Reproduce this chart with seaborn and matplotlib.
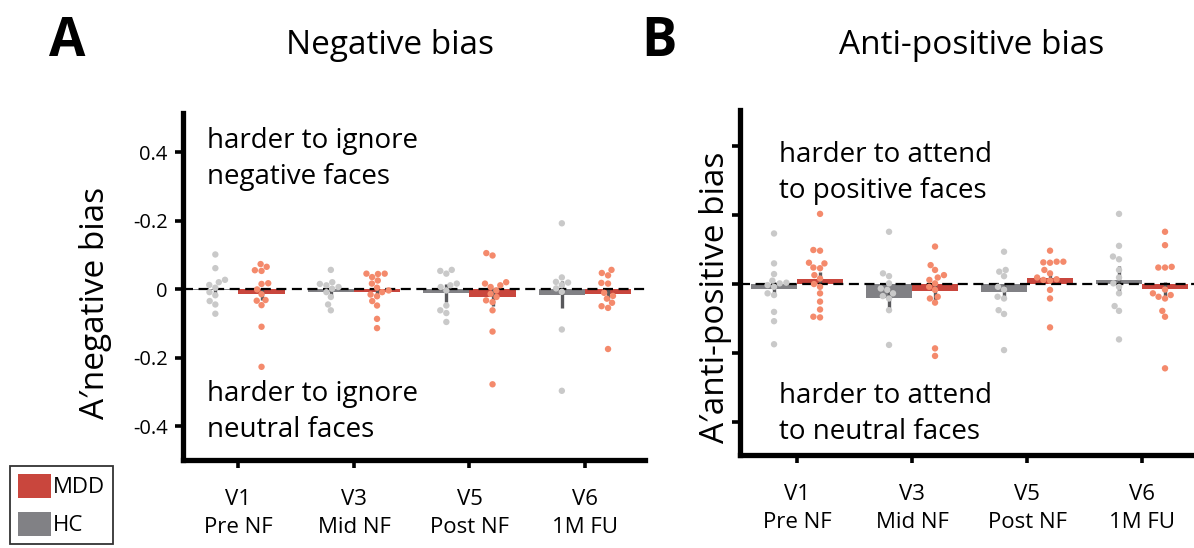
import matplotlib
matplotlib.use("Agg")
import matplotlib.pyplot as plt
from matplotlib.patches import Patch
import numpy as np
import pandas as pd
import seaborn as sns
import warnings
warnings.filterwarnings("ignore")

# ---------------- data ----------------
visits = ["V1", "V3", "V5", "V6"]
visit_labels = ["V1\nPre NF", "V3\nMid NF", "V5\nPost NF", "V6\n1M FU"]
groups = ["HC", "MDD"]

# Panel A: negative bias
neg_hc_mean = [-0.004, -0.010, -0.012, -0.016]
neg_mdd_mean = [-0.015, -0.009, -0.023, -0.015]
neg_hc_err = [0.012, 0.010, 0.026, 0.040]
neg_mdd_err = [0.018, 0.012, 0.027, 0.018]
neg_hc_dots = [
    [0.101, 0.061, 0.027, 0.020, 0.012, 0.004, -0.009, -0.018, -0.035, -0.045, -0.072],
    [0.056, 0.020, 0.015, 0.011, 0.006, 0.001, -0.009, -0.023, -0.045, -0.062],
    [0.056, 0.053, 0.045, 0.016, 0.011, 0.006, -0.004, -0.048, -0.062, -0.070, -0.096],
    [0.192, 0.034, 0.021, 0.019, 0.012, 0.002, -0.008, -0.118, -0.297],
]
neg_mdd_dots = [
    [0.073, 0.065, 0.055, 0.053, 0.017, 0.015, -0.001, -0.015, -0.032, -0.034, -0.047, -0.110, -0.227],
    [0.045, 0.045, 0.044, 0.035, 0.025, 0.016, 0.004, -0.004, -0.009, -0.016, -0.021, -0.035, -0.048, -0.087, -0.114],
    [0.105, 0.098, 0.020, 0.016, 0.011, 0.006, -0.004, -0.014, -0.023, -0.033, -0.038, -0.062, -0.124, -0.278],
    [0.056, 0.047, 0.040, 0.018, 0.016, -0.011, -0.020, -0.028, -0.040, -0.050, -0.055, -0.175],
]

# Panel B: anti-positive bias
pos_hc_mean = [-0.015, -0.042, -0.022, 0.012]
pos_mdd_mean = [0.014, -0.020, 0.017, -0.015]
pos_hc_err = [0.020, 0.027, 0.020, 0.040]
pos_mdd_err = [0.022, 0.025, 0.015, 0.020]
pos_hc_dots = [
    [0.147, 0.060, 0.029, 0.010, 0.004, 0.002, -0.003, -0.008, -0.027, -0.032, -0.081, -0.108, -0.175],
    [0.152, 0.031, 0.023, 0.002, -0.013, -0.017, -0.027, -0.035, -0.042, -0.076, -0.177],
    [0.094, 0.041, 0.036, 0.023, -0.008, -0.016, -0.037, -0.042, -0.076, -0.087, -0.192],
    [0.204, 0.111, 0.080, 0.072, 0.041, 0.019, 0.002, -0.008, -0.027, -0.064, -0.078, -0.161],
]
pos_mdd_dots = [
    [0.204, 0.099, 0.097, 0.062, 0.060, 0.048, 0.046, 0.026, 0.016, 0.000, -0.008, -0.027, -0.051, -0.074, -0.095, -0.097],
    [0.109, 0.055, 0.041, 0.026, 0.019, 0.012, 0.002, -0.008, -0.017, -0.037, -0.042, -0.054, -0.187, -0.209],
    [0.097, 0.065, 0.065, 0.063, 0.062, 0.041, 0.031, 0.019, 0.014, 0.012, 0.010, -0.017, -0.042, -0.126],
    [0.152, 0.113, 0.050, 0.048, 0.048, -0.016, -0.027, -0.032, -0.037, -0.042, -0.078, -0.095, -0.245],
]

yticks = [-0.4, -0.2, 0, 0.2, 0.4]
neg_ytick_labels = ["-0.4", "-0.2", "0", "-0.2", "0.4"]

# ---------------- style ----------------
sns.set_theme(style="white")
plt.rcParams["font.family"] = ["Open Sans", "DejaVu Sans"]
plt.rcParams["text.color"] = "black"
plt.rcParams["xtick.color"] = "black"
plt.rcParams["ytick.color"] = "black"
plt.rcParams["axes.labelcolor"] = "black"

bar_colors = {"HC": "#818185", "MDD": "#C9463D"}
dot_colors = {"HC": "#C9C9C9", "MDD": "#F48A6C"}
err_color = "#58585B"


def make_frames(hc_mean, mdd_mean, hc_dots, mdd_dots):
    bars = pd.DataFrame({
        "visit": visits * 2,
        "group": ["HC"] * 4 + ["MDD"] * 4,
        "value": list(hc_mean) + list(mdd_mean),
    })
    rows = []
    for g, dots in (("HC", hc_dots), ("MDD", mdd_dots)):
        for v, vals in zip(visits, dots):
            for val in vals:
                rows.append({"visit": v, "group": g, "value": val})
    return bars, pd.DataFrame(rows)


def draw_panel(ax, hc_mean, mdd_mean, hc_err, mdd_err, hc_dots, mdd_dots):
    bars, dots = make_frames(hc_mean, mdd_mean, hc_dots, mdd_dots)
    sns.barplot(data=bars, x="visit", y="value", hue="group", order=visits,
                hue_order=groups, palette=bar_colors, errorbar=None, width=0.8,
                saturation=1, ax=ax, legend=False, zorder=1, edgecolor="none")
    # error bars at bar centres (patches are ordered by hue then category)
    patches = [p for p in ax.patches if p.get_width() > 0]
    errs = list(hc_err) + list(mdd_err)
    means = list(hc_mean) + list(mdd_mean)
    for p, m, e in zip(patches, means, errs):
        xc = p.get_x() + p.get_width() / 2
        ax.errorbar(xc, m, yerr=e, fmt="none", ecolor=err_color,
                    elinewidth=2.4, capsize=0, zorder=2)
    ax.axhline(0, color="black", lw=1.6, ls=(0, (4.5, 2.5)), zorder=3)
    sns.swarmplot(data=dots, x="visit", y="value", hue="group", order=visits,
                  hue_order=groups, palette=dot_colors, dodge=True, size=4.6,
                  ax=ax, legend=False, zorder=4, linewidth=0)
    ax.set_xlabel("")
    ax.set_ylabel("")
    ax.set_yticks(yticks)
    ax.set_xticks(range(4))
    ax.set_xticklabels(visit_labels, fontsize=16, linespacing=1.45)
    for s in ("top", "right"):
        ax.spines[s].set_visible(False)
    for s in ("left", "bottom"):
        ax.spines[s].set_linewidth(3.8)
        ax.spines[s].set_color("black")
    ax.tick_params(axis="both", which="both", direction="out", length=6,
                   width=2.6, color="black", labelcolor="black", left=True, bottom=True)
    ax.tick_params(axis="x", pad=15)
    ax.tick_params(axis="y", pad=5, labelsize=14.5)
    ax.set_facecolor("white")


fig = plt.figure(figsize=(11.94, 5.48), dpi=100)
fig.patch.set_facecolor("white")
W, H = 1194, 548
axA = fig.add_axes([183 / W, (H - 460) / H, 462 / W, 347 / H])
axB = fig.add_axes([740 / W, (H - 455) / H, 454 / W, 345 / H])

draw_panel(axA, neg_hc_mean, neg_mdd_mean, neg_hc_err, neg_mdd_err, neg_hc_dots, neg_mdd_dots)
draw_panel(axB, pos_hc_mean, pos_mdd_mean, pos_hc_err, pos_mdd_err, pos_hc_dots, pos_mdd_dots)

axA.set_yticklabels(neg_ytick_labels)
axB.set_yticklabels([""] * len(yticks))
axA.set_xlim(-0.48, 3.52)
axA.set_ylim(-0.499, 0.514)
axB.set_xlim(-0.496, 3.452)
axB.set_ylim(-0.497, 0.506)

# annotations inside panels
txt_kw = dict(fontsize=20, linespacing=1.4, ha="left", color="black")
axA.text(0.052, 0.96, "harder to ignore\nnegative faces", transform=axA.transAxes, va="top", **txt_kw)
axA.text(0.052, 0.045, "harder to ignore\nneutral faces", transform=axA.transAxes, va="bottom", **txt_kw)
axB.text(0.086, 0.91, "harder to attend\nto positive faces", transform=axB.transAxes, va="top", **txt_kw)
axB.text(0.086, 0.025, "harder to attend\nto neutral faces", transform=axB.transAxes, va="bottom", **txt_kw)

# y labels
fig.text(96 / W, 1 - 303 / H, "A\u2032negative bias", rotation=90, ha="center", va="center", fontsize=24)
fig.text(716 / W, 1 - 297 / H, "A\u2032anti-positive bias", rotation=90, ha="center", va="center", fontsize=24)

# panel letters and titles
fig.text(67 / W, 1 - 42 / H, "A", fontsize=38, fontweight="bold", ha="center", va="center")
fig.text(659 / W, 1 - 42 / H, "B", fontsize=38, fontweight="bold", ha="center", va="center")
fig.text(390 / W, 1 - 45 / H, "Negative bias", fontsize=24, ha="center", va="center")
fig.text(972 / W, 1 - 45 / H, "Anti-positive bias", fontsize=24, ha="center", va="center")

# legend
handles = [Patch(facecolor=bar_colors["MDD"], edgecolor="none", label="MDD"),
           Patch(facecolor=bar_colors["HC"], edgecolor="none", label="HC")]
leg = fig.legend(handles=handles, loc="lower left", bbox_to_anchor=(10 / W, (H - 544) / H),
                 fontsize=16, frameon=True, fancybox=False, handlelength=1.5,
                 handleheight=1.3, handletextpad=0.1, borderpad=0.35,
                 labelspacing=0.6, borderaxespad=0)
leg.get_frame().set_edgecolor("black")
leg.get_frame().set_linewidth(1.3)

fig.savefig("out.png", dpi=100, facecolor="white")
